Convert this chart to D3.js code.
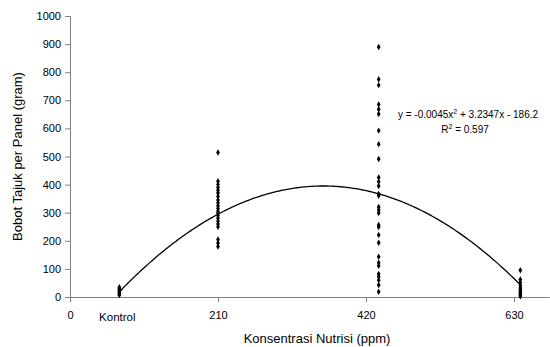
<!DOCTYPE html>
<html>
<head>
<meta charset="utf-8">
<script src="https://cdn.jsdelivr.net/npm/d3@7"></script>
<style>
  body { margin: 0; background: #fff; }
  svg { display: block; font-family: "Liberation Sans", Arial, sans-serif; }
</style>
</head>
<body>
<div id="chart"></div>
<script>
// doses (ppm) where each group of panels sits on the x axis
const groupX = [70, 210, 438, 639];
// shoot weight per panel (gram)
const kontrolValues = [35, 30, 26, 22, 18, 14, 10, 7];
const dose210Values = [514, 412, 400, 390, 380, 370, 358, 345, 335, 325, 315, 305, 298, 290, 280, 270, 260, 250, 205, 192, 180];
const dose420Values = [890, 775, 754, 685, 668, 651, 592, 544, 491, 425, 410, 395, 367, 360, 320, 310, 299, 256, 249, 221, 193, 143, 122, 111, 82, 72, 60, 43, 19];
const dose630Values = [95, 62, 52, 42, 33, 27, 22, 18, 14, 10, 6, 3];
const groups = [kontrolValues, dose210Values, dose420Values, dose630Values];

// quadratic trend line coefficients: y = a x^2 + b x + c
const coef = [-0.0045, 3.2347, -186.2];
const trendRange = [70, 639];

const xTicks = [0, 210, 420, 630];
const xTickLabels = ['0', '210', '420', '630'];
const kontrolLabel = 'Kontrol';
const yTicks = [0, 100, 200, 300, 400, 500, 600, 700, 800, 900, 1000];

const width = 550, height = 347;
const svg = d3.select('#chart').append('svg')
  .attr('width', width)
  .attr('height', height);

const x = d3.scaleLinear().domain([0, 680]).range([70, 70 + 680 * 148 / 210]);
const y = d3.scaleLinear().domain([0, 1000]).range([297, 16]);

// y axis
const yAxis = svg.append('g')
  .attr('transform', `translate(${x(0)},0)`)
  .call(d3.axisLeft(y).tickValues(yTicks).tickSize(5).tickPadding(4).tickFormat(d3.format('d')));
yAxis.select('.domain').attr('stroke', '#808080');
yAxis.selectAll('.tick line').attr('stroke', '#808080');
yAxis.selectAll('.tick text').attr('fill', '#000').style('font-size', '11px');

// x axis
const xAxis = svg.append('g')
  .attr('transform', `translate(0,${y(0)})`)
  .call(d3.axisBottom(x).tickValues(xTicks).tickSize(5).tickPadding(9)
    .tickFormat((d, i) => xTickLabels[i]).tickSizeOuter(0));
xAxis.select('.domain').attr('stroke', '#808080');
xAxis.selectAll('.tick line').attr('stroke', '#808080');
xAxis.selectAll('.tick text').attr('fill', '#000').style('font-size', '11px');

svg.append('text')
  .attr('x', x(groupX[0]) - 2)
  .attr('y', y(0) + 24)
  .attr('text-anchor', 'middle')
  .style('font-size', '11.5px')
  .text(kontrolLabel);

// trend curve
const curveData = d3.range(trendRange[0], trendRange[1] + 1, 2).map(d => [d, coef[0] * d * d + coef[1] * d + coef[2]]);
svg.append('path')
  .datum(curveData)
  .attr('fill', 'none')
  .attr('stroke', '#000')
  .attr('stroke-width', 1.3)
  .attr('d', d3.line().x(d => x(d[0])).y(d => y(d[1])));

// points
const pts = [];
groups.forEach((vals, i) => vals.forEach(v => pts.push([groupX[i], v])));
svg.append('g').selectAll('path')
  .data(pts)
  .join('path')
  .attr('transform', d => `translate(${x(d[0])},${y(d[1])})`)
  .attr('d', d3.symbol().type(d3.symbolDiamond).size(12))
  .attr('fill', '#000');

// equation label
const eq = svg.append('text')
  .attr('x', 468)
  .attr('y', 118)
  .attr('text-anchor', 'middle')
  .style('font-size', '10px');
eq.append('tspan').text('y = -0.0045x');
eq.append('tspan').attr('dy', -4).style('font-size', '7px').text('2');
eq.append('tspan').attr('dy', 4).text(' + 3.2347x - 186.2');

const r2 = svg.append('text')
  .attr('x', 465)
  .attr('y', 133)
  .attr('text-anchor', 'middle')
  .style('font-size', '10px');
r2.append('tspan').text('R');
r2.append('tspan').attr('dy', -4).style('font-size', '7px').text('2');
r2.append('tspan').attr('dy', 4).text(' = 0.597');

// axis titles
svg.append('text')
  .attr('transform', `translate(22,${(y(0) + y(1000)) / 2}) rotate(-90)`)
  .attr('text-anchor', 'middle')
  .style('font-size', '13px')
  .text('Bobot Tajuk per Panel (gram)');

svg.append('text')
  .attr('x', 317)
  .attr('y', 343)
  .attr('text-anchor', 'middle')
  .style('font-size', '13px')
  .text('Konsentrasi Nutrisi (ppm)');
</script>
</body>
</html>
